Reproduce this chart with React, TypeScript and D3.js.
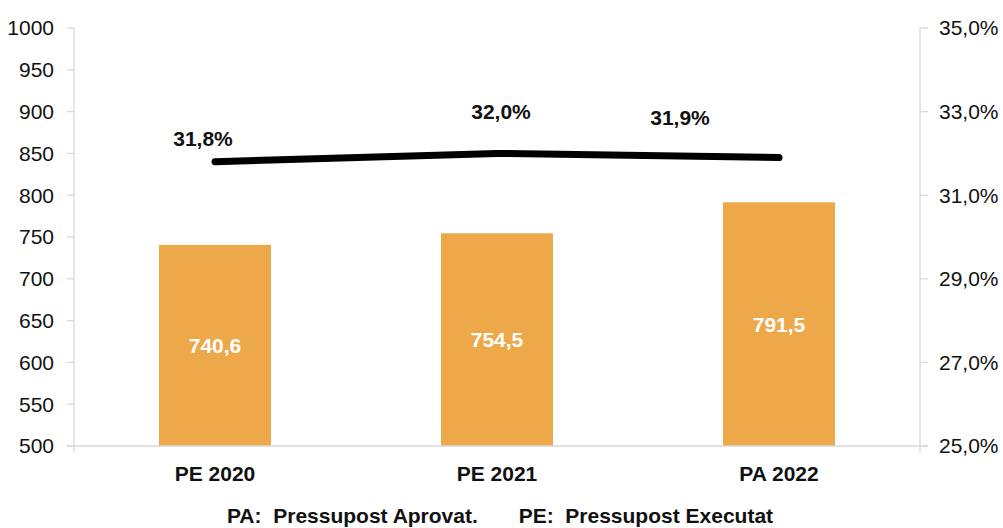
import React from "react";
import * as d3 from "d3";

const categories = ["PE 2020", "PE 2021", "PA 2022"];
const barValues = [740.6, 754.5, 791.5];
const pctValues = [31.8, 32.0, 31.9];
const leftTicks = [500, 550, 600, 650, 700, 750, 800, 850, 900, 950, 1000];
const rightTicks = [25, 27, 29, 31, 33, 35];
const legendText = "PA:  Pressupost Aprovat.       PE:  Pressupost Executat";

// label placement offsets (styling, px)
const pctLabelDx = [-12, 4, -99];
const pctLabelDy = [-23, -42, -40];

const W = 1003;
const H = 528;
const left = 74;
const right = 920;
const top = 28;
const bottom = 446;
const font = "'Liberation Sans', Arial, Helvetica, sans-serif";
const axisColor = "#d9d9d9";

export default function App() {
  const x = d3.scaleBand<string>().domain(categories).range([left, right]).paddingInner(0.603).paddingOuter(0.3015);
  const yL = d3.scaleLinear().domain([500, 1000]).range([bottom, top]);
  const yR = d3.scaleLinear().domain([25, 35]).range([bottom, top]);
  const fmt = (v: number) => v.toFixed(1).replace(".", ",");
  const cx = (c: string) => (x(c) as number) + x.bandwidth() / 2;
  const line = d3
    .line<number>()
    .x((_, i) => cx(categories[i]))
    .y((d) => yR(d));

  return (
    <svg width={W} height={H} style={{ position: "absolute", left: 0, top: 0, background: "#fff" }} fontFamily={font}>
      {/* axes */}
      <line x1={left} x2={left} y1={top} y2={bottom + 6} stroke={axisColor} strokeWidth={1.3} />
      <line x1={right} x2={right} y1={top} y2={bottom + 6} stroke={axisColor} strokeWidth={1.3} />
      {leftTicks.map((t) => (
        <g key={"l" + t}>
          <line x1={left - 7} x2={left} y1={yL(t)} y2={yL(t)} stroke={axisColor} strokeWidth={1.3} />
          <text x={54} y={yL(t)} dy="0.35em" textAnchor="end" fontSize={21} fill="#111">
            {t}
          </text>
        </g>
      ))}
      {rightTicks.map((t) => (
        <g key={"r" + t}>
          <line x1={right} x2={right + 8} y1={yR(t)} y2={yR(t)} stroke={axisColor} strokeWidth={1.3} />
          <text x={939} y={yR(t)} dy="0.35em" textAnchor="start" fontSize={21} fill="#111">
            {fmt(t) + "%"}
          </text>
        </g>
      ))}
      {/* bars */}
      {categories.map((c, i) => (
        <g key={c}>
          <rect x={x(c)} y={yL(barValues[i])} width={x.bandwidth()} height={bottom - yL(barValues[i])} fill="#EDA84A" />
          <text
            x={cx(c)}
            y={(yL(barValues[i]) + bottom) / 2}
            dy="0.35em"
            textAnchor="middle"
            fontSize={21}
            fontWeight="bold"
            fill="#fff"
          >
            {fmt(barValues[i])}
          </text>
          <text x={cx(c)} y={474} dy="0.35em" textAnchor="middle" fontSize={21} fontWeight="bold" fill="#111">
            {c}
          </text>
        </g>
      ))}
      <line x1={left - 7} x2={right + 8} y1={bottom} y2={bottom} stroke={axisColor} strokeWidth={1.3} />
      {/* line */}
      <path d={line(pctValues) || ""} fill="none" stroke="#000" strokeWidth={7} strokeLinecap="round" strokeLinejoin="round" />
      {pctValues.map((v, i) => (
        <text
          key={"p" + i}
          x={cx(categories[i]) + pctLabelDx[i]}
          y={yR(v) + pctLabelDy[i]}
          dy="0.35em"
          textAnchor="middle"
          fontSize={21}
          fontWeight="bold"
          fill="#111"
        >
          {fmt(v) + "%"}
        </text>
      ))}
      <text x={500} y={516} dy="0.35em" textAnchor="middle" fontSize={21} fontWeight="bold" fill="#111" style={{ whiteSpace: "pre" }}>
        {legendText}
      </text>
    </svg>
  );
}
